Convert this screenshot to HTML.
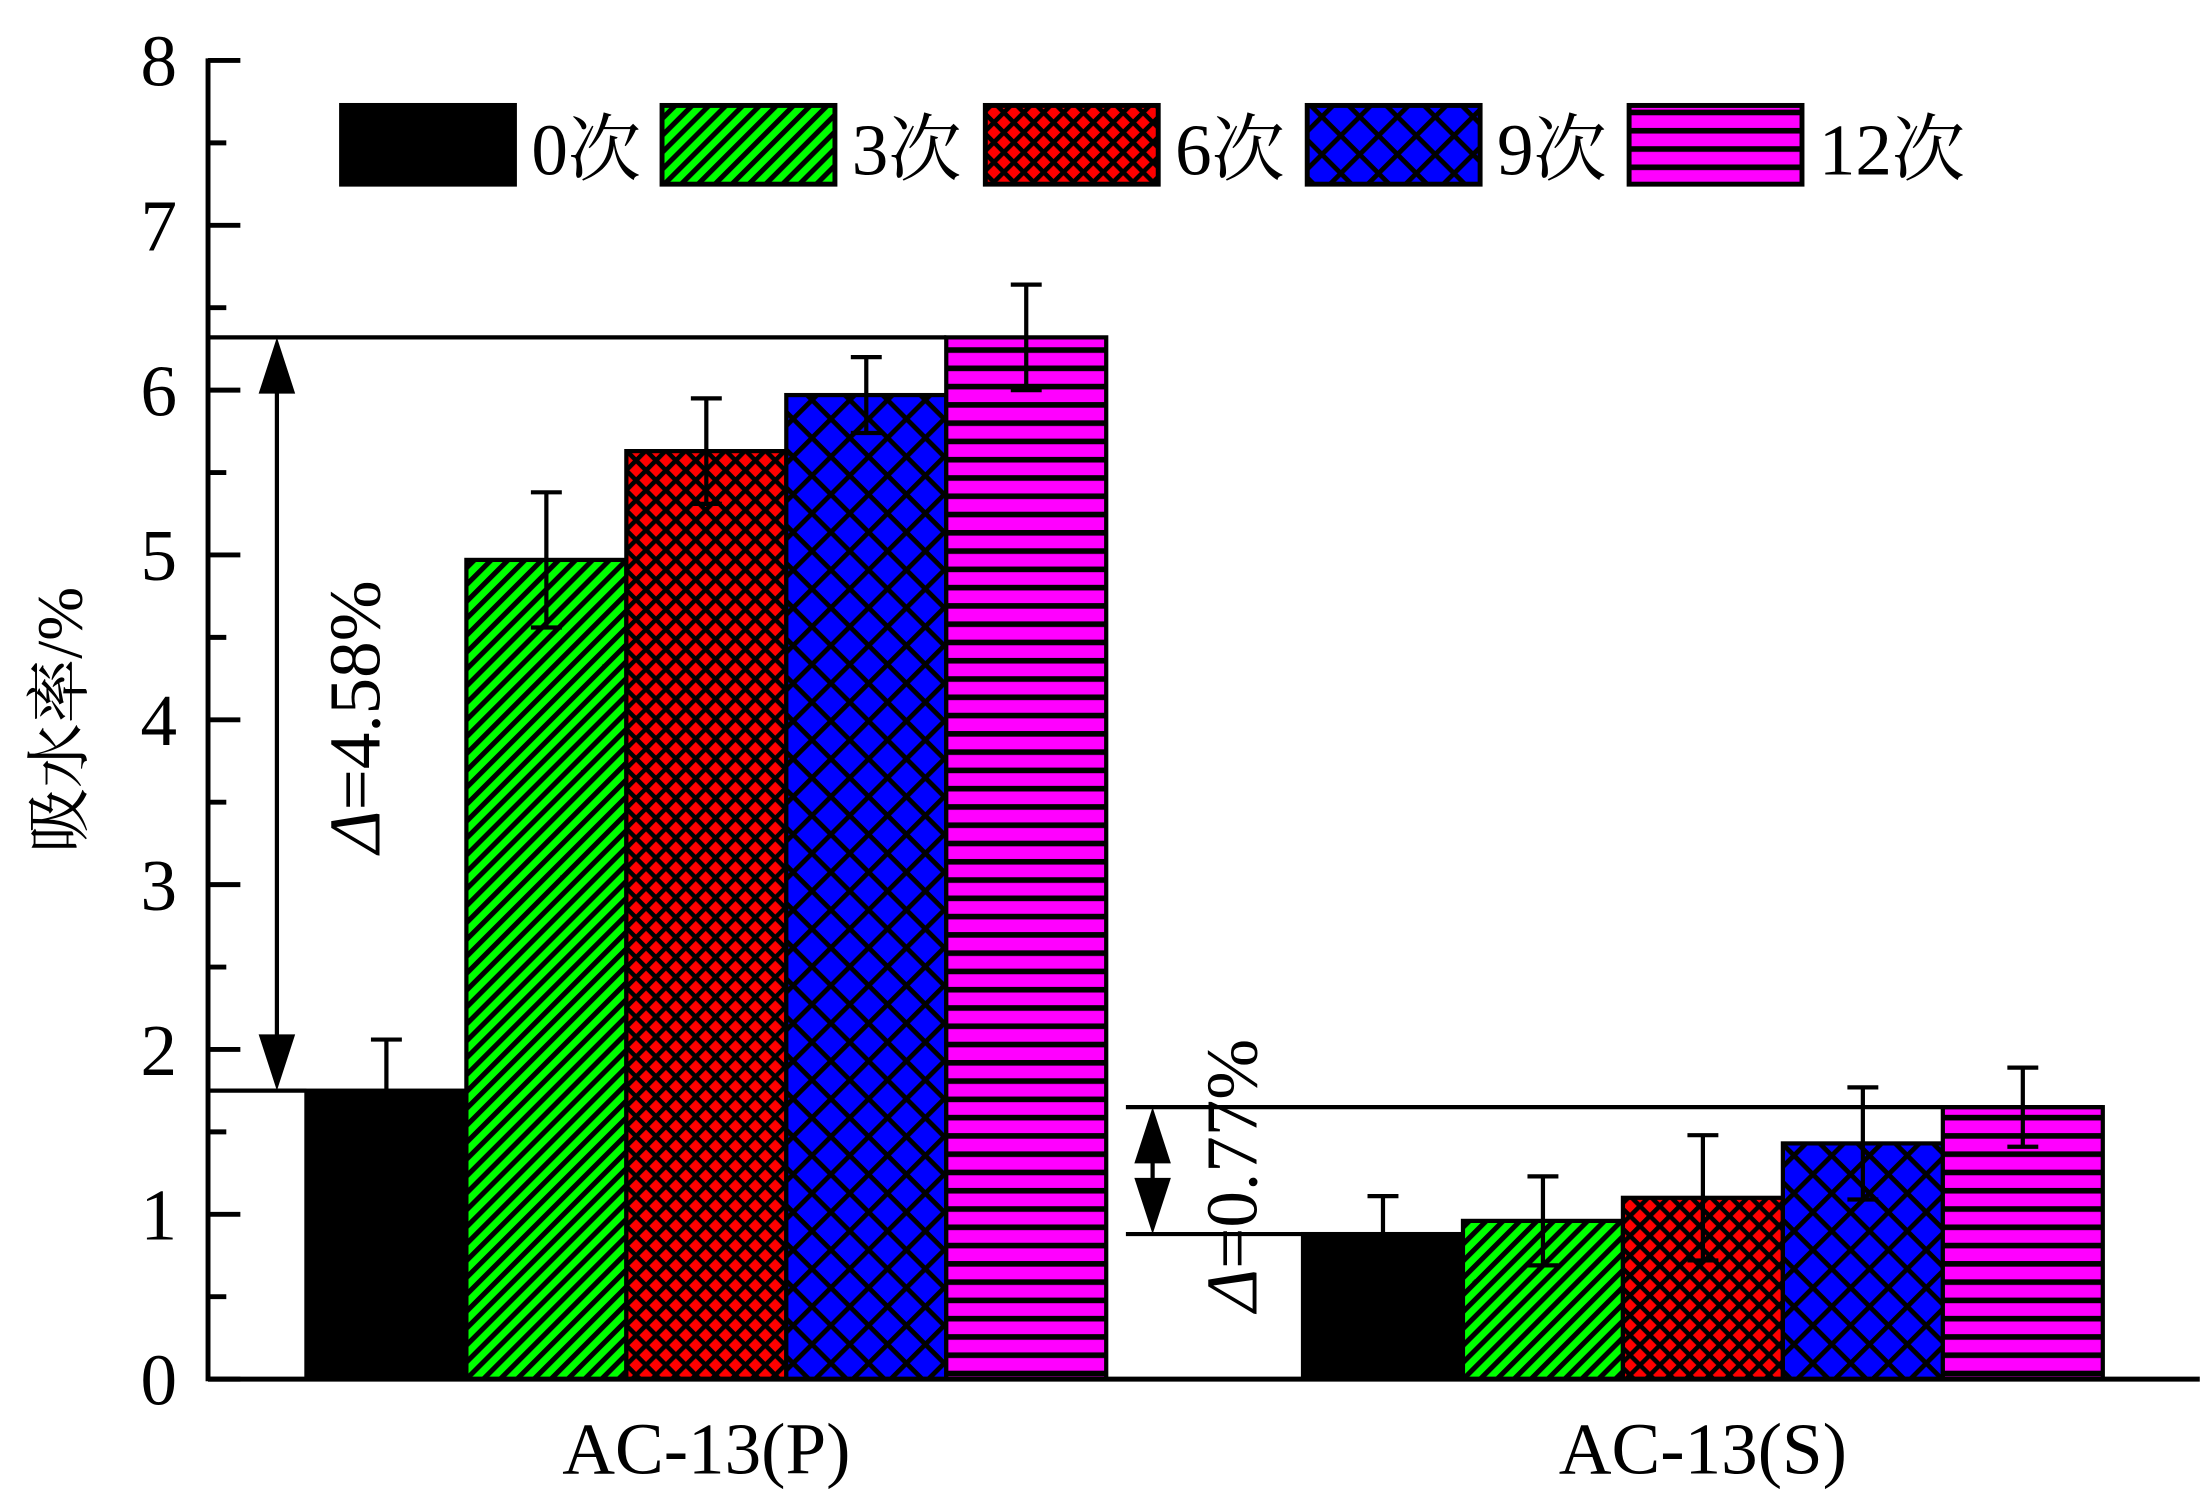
<!DOCTYPE html>
<html><head><meta charset="utf-8"><style>
html,body{margin:0;padding:0;background:#fff;}
svg{display:block;}
text{font-family:"Liberation Serif","Noto Serif CJK SC",serif;fill:#000;}
</style></head><body>
<svg id="chart" width="2204" height="1493" viewBox="0 0 1568 1062" preserveAspectRatio="none" xmlns="http://www.w3.org/2000/svg">
<defs>
<pattern id="p1" patternUnits="userSpaceOnUse" width="8.5" height="8.5" patternTransform="rotate(45)"><rect width="8.5" height="8.5" fill="#00ff00"/><rect x="0" y="0" width="3.6" height="8.5" fill="#000"/></pattern>
<pattern id="p2" patternUnits="userSpaceOnUse" width="10" height="10" patternTransform="rotate(45)"><rect width="10" height="10" fill="#ff0000"/><rect width="3.2" height="10" fill="#000"/><rect width="10" height="3.2" fill="#000"/></pattern>
<pattern id="p3" patternUnits="userSpaceOnUse" width="19" height="19" patternTransform="rotate(45)"><rect width="19" height="19" fill="#0000ff"/><rect width="3.4" height="19" fill="#000"/><rect width="19" height="3.4" fill="#000"/></pattern>
<pattern id="p4" patternUnits="userSpaceOnUse" width="13" height="13"><rect width="13" height="13" fill="#ff00ff"/><rect y="0" width="13" height="4" fill="#000"/></pattern>
</defs>
<g id="plot"></g>
</svg>
<script>
const categories = ["AC-13(P)", "AC-13(S)"];
const seriesNames = ["0次", "3次", "6次", "9次", "12次"];
const valuesP = [1.75, 4.97, 5.63, 5.97, 6.32];
const valuesS = [0.88, 0.96, 1.10, 1.43, 1.65];
const errorsP = [0.31, 0.41, 0.32, 0.23, 0.32];
const errorsS = [0.23, 0.27, 0.38, 0.34, 0.24];
const yTicks = [0, 1, 2, 3, 4, 5, 6, 7, 8];
const deltaLabels = ["4.58%", "0.77%"];

const NS = "http://www.w3.org/2000/svg";
const g = document.getElementById("plot");
const fills = ["#000", "url(#p1)", "url(#p2)", "url(#p3)", "url(#p4)"];
const x0 = 148, x1 = 1565, yBase = 981, yTop = 43;
function y(v) { return yBase - (v - 0) / (8 - 0) * (yBase - yTop); }
const groupStart = [218, 927], barW = 113.8;
function bx(gi, si) { return groupStart[gi] + si * barW; }
function el(tag, attrs, parent) {
  const e = document.createElementNS(NS, tag);
  for (const k in attrs) e.setAttribute(k, attrs[k]);
  (parent || g).appendChild(e);
  return e;
}
function line(xa, ya, xb, yb, w) { return el("line", {x1: xa, y1: ya, x2: xb, y2: yb, stroke: "#000", "stroke-width": w}); }

const allVals = [valuesP, valuesS], allErr = [errorsP, errorsS];
allVals.forEach((vals, gi) => {
  vals.forEach((v, si) => {
    const r = el("rect", {x: bx(gi, si), y: y(v), width: barW, height: yBase - y(v), fill: fills[si], stroke: "#000", "stroke-width": 3});
    
    
  });
});
allVals.forEach((vals, gi) => {
  vals.forEach((v, si) => {
    const cx = bx(gi, si) + barW / 2, e = allErr[gi][si];
    const eg = el("g", {});
    
    
    el("line", {x1: cx, y1: y(v + e), x2: cx, y2: y(v - e), stroke: "#000", "stroke-width": 3}, eg);
    el("line", {x1: cx - 11, y1: y(v + e), x2: cx + 11, y2: y(v + e), stroke: "#000", "stroke-width": 3}, eg);
    el("line", {x1: cx - 11, y1: y(v - e), x2: cx + 11, y2: y(v - e), stroke: "#000", "stroke-width": 3}, eg);
  });
});
const ax = line(x0, yBase, x1, yBase, 3.5);


const ay = line(x0, yTop - 1.5, x0, yBase + 1.5, 3.5);


yTicks.forEach(t => {
  line(x0, y(t), x0 + 23, y(t), 3.5);
  if (t < 8) line(x0, y(t + 0.5), x0 + 13, y(t + 0.5), 3.5);
  const tx = el("text", {x: 126, y: y(t) + 18, "text-anchor": "end", "font-size": 52});
  tx.textContent = t;
  
  
});
categories.forEach((c, gi) => {
  const tx = el("text", {x: bx(gi, 2) + barW / 2, y: 1048, "text-anchor": "middle", "font-size": 52});
  tx.textContent = c;
  
  
});
const yt = el("text", {transform: "translate(58,512) rotate(-90)", "text-anchor": "middle", "font-size": 46});
yt.textContent = "吸水率/%";



function arrowV(xc, ya, yb) {
  const ag = el("g", {});
  
  
  const h = Math.min(40, (yb - ya) / 2);
  el("line", {x1: xc, y1: ya + h * 0.9, x2: xc, y2: yb - h * 0.9, stroke: "#000", "stroke-width": 3}, ag);
  el("polygon", {points: `${xc},${ya} ${xc - 13},${ya + h} ${xc + 13},${ya + h}`, fill: "#000"}, ag);
  el("polygon", {points: `${xc},${yb} ${xc - 13},${yb - h} ${xc + 13},${yb - h}`, fill: "#000"}, ag);
}
line(x0, y(valuesP[4]), bx(0, 4), y(valuesP[4]), 3);
line(x0, y(valuesP[0]), bx(0, 0), y(valuesP[0]), 3);
arrowV(197, y(valuesP[4]), y(valuesP[0]));
const d1 = el("text", {transform: `translate(270,${(y(valuesP[4]) + y(valuesP[0])) / 2 + 2}) rotate(-90)`, "text-anchor": "middle", "font-size": 52});
d1.innerHTML = '<tspan font-style="italic">Δ</tspan>=' + deltaLabels[0];


line(801, y(valuesS[4]), bx(1, 4) + barW, y(valuesS[4]), 3);
line(801, y(valuesS[0]), bx(1, 0), y(valuesS[0]), 3);
arrowV(820, y(valuesS[4]), y(valuesS[0]));
const d2 = el("text", {transform: `translate(894,836) rotate(-90)`, "text-anchor": "middle", "font-size": 52});
d2.innerHTML = '<tspan font-style="italic">Δ</tspan>=' + deltaLabels[1];



const legX = [243, 471, 701, 930, 1159];
seriesNames.forEach((n, i) => {
  const lg = el("g", {});
  
  
  el("rect", {x: legX[i], y: 75, width: 123, height: 56, fill: fills[i], stroke: "#000", "stroke-width": 3.5}, lg);
  const t = el("text", {x: legX[i] + 135, y: 124, "font-size": 52}, lg);
  t.textContent = n;
});
</script>
</body></html>
